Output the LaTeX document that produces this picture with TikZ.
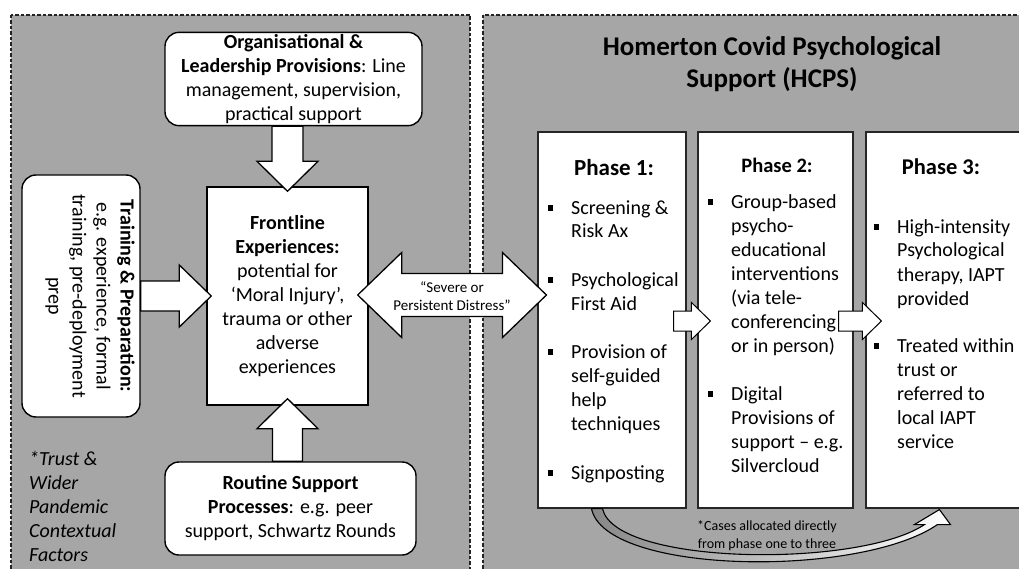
\documentclass[tikz,border=0pt]{standalone}
\usepackage{fontspec}
\setmainfont{Carlito}
\usetikzlibrary{calc}
\definecolor{panelgray}{RGB}{166,166,166}
\definecolor{bandgray}{RGB}{135,135,135}
\definecolor{dashc}{RGB}{35,35,35}
\newcommand{\fsz}[2]{\fontsize{#1}{#2}\selectfont}
\newcommand{\blockarr}[5]{%
  \path ($(#2)!#5!(#1)$) coordinate (bhd);
  \draw[blockarrow] ($(#1)!#3!90:(#2)$) -- ($(bhd)!#3!90:(#2)$) -- ($(bhd)!#4!90:(#2)$) -- (#2)
     -- ($(bhd)!#4!-90:(#2)$) -- ($(bhd)!#3!-90:(#2)$) -- ($(#1)!#3!-90:(#2)$) -- cycle;}
\newcommand{\dblarr}[5]{%
  \path ($(#1)!#5!(#2)$) coordinate (dha) ($(#2)!#5!(#1)$) coordinate (dhb);
  \draw[blockarrow] (#1) -- ($(dha)!#4!90:(#2)$) -- ($(dha)!#3!90:(#2)$) -- ($(dhb)!#3!-90:(#1)$)
     -- ($(dhb)!#4!-90:(#1)$) -- (#2) -- ($(dhb)!#4!90:(#1)$) -- ($(dhb)!#3!90:(#1)$)
     -- ($(dha)!#3!-90:(#2)$) -- ($(dha)!#4!-90:(#2)$) -- cycle;}
\newcommand{\bitem}[4]{%
  \node[bulletsq] (#1b) at (#2-20.5,#3) {};
  \node[itemtext] (#1) at (#2,#3-11) {\strut #4};}
\begin{document}
\begin{tikzpicture}[x=1pt,y=-1pt,
  panel/.style={draw=dashc,fill=panelgray,line width=1.4pt,dash pattern=on 3.5pt off 2pt},
  rbox/.style={draw=black,fill=white,line width=1.4pt,rounded corners=14pt,inner sep=2pt,align=center,font=\fsz{20}{24}},
  sbox/.style={draw=black,fill=white,line width=1.4pt,inner sep=2pt,align=center,font=\fsz{20}{24}},
  phasebox/.style={draw=black!85,fill=white,line width=1.1pt,minimum width=148pt,minimum height=376pt,inner sep=0pt},
  blockarrow/.style={draw=black,fill=white,line width=1.3pt,line join=miter},
  smallarrow/.style={draw=black,fill=white,line width=1pt,line join=miter},
  bulletsq/.style={fill=black,inner sep=0pt,minimum size=5.5pt,rectangle},
  itemtext/.style={anchor=north west,inner sep=0pt,align=left,font=\fsz{20}{24}},
  ptitle/.style={inner sep=0pt,font=\bfseries}]
\useasboundingbox (0,0) rectangle (1019,569);
\clip (0,0) rectangle (1019,569);
\fill[white] (0,0) rectangle (1019,569);
% panels
\draw[panel] (11,15) rectangle (470,580);
\draw[panel] (483,15) rectangle (1040,580);
% left side boxes
\node[rbox,minimum width=257pt,minimum height=92pt] (org) at (293.5,79)
  {\textbf{Organisational \&}\\\textbf{Leadership Provisions}: Line\\management, supervision,\\practical support};
\node[sbox,minimum width=161pt,minimum height=218pt] (front) at (287.5,296)
  {\textbf{Frontline}\\\textbf{Experiences:}\\potential for\\‘Moral Injury’,\\trauma or other\\adverse\\experiences};
\node[rbox,minimum width=251pt,minimum height=93pt] (routine) at (290.5,508.5)
  {\textbf{Routine Support}\\\textbf{Processes}: e.g. peer\\support, Schwartz Rounds};
\node[rbox,minimum width=118pt,minimum height=242pt] (train) at (81,296) {};
\node[rotate=-90,inner sep=0pt,align=center,font=\fsz{20}{24}] (traintext) at (90,296)
  {\textbf{Training \& Preparation:}\\e.g. experience, formal\\training, pre-deployment\\prep};
\node[anchor=west,inner sep=0pt,align=left,font=\fsz{20}{24}\itshape] (trust) at (29,506.5)
  {*Trust \&\\Wider\\Pandemic\\Contextual\\Factors};
% right side
\node[inner sep=0pt,align=center,font=\fsz{27}{32}\bfseries] (title) at (772,64)
  {Homerton Covid Psychological\\Support (HCPS)};
\node[phasebox] (p1) at (612,320) {};
\node[phasebox,minimum width=155pt] (p2) at (775.5,320) {};
\node[phasebox,minimum width=164pt] (p3) at (948,320) {};
\node[ptitle,font=\fsz{23}{26}\bfseries] (t1) at (614,168) {Phase 1:};
\node[ptitle,font=\fsz{20.5}{24}\bfseries] (t2) at (777,165) {Phase 2:};
\node[ptitle,font=\fsz{22.5}{26}\bfseries] (t3) at (941,167) {Phase 3:};
\bitem{p1a}{571}{208}{Screening \&\\Risk Ax}
\bitem{p1b}{571}{280}{Psychological\\First Aid}
\bitem{p1c}{571}{352}{Provision of\\self-guided\\help\\techniques}
\bitem{p1d}{571}{473}{Signposting}
\bitem{p2a}{731}{202}{Group-based\\psycho-\\educational\\interventions\\(via tele-\\conferencing\\or in person)}
\bitem{p2b}{731}{394}{Digital\\Provisions of\\support – e.g.\\Silvercloud}
\bitem{p3a}{897}{227}{High-intensity\\Psychological\\therapy, IAPT\\provided}
\bitem{p3b}{897}{346}{Treated within\\trust or\\referred to\\local IAPT\\service}
% block arrows
\coordinate (a1s) at (front.north |- org.south);
\coordinate (a1e) at ($(front.north)+(0,5)$);
\blockarr{a1s}{a1e}{15.5pt}{30.5pt}{30pt}
\coordinate (a2s) at (front.south |- routine.north);
\coordinate (a2e) at ($(front.south)+(0,-7)$);
\blockarr{a2s}{a2e}{15pt}{30.5pt}{30pt}
\coordinate (a3s) at (train.east |- front.west);
\coordinate (a3e) at ($(front.west)+(5,0)$);
\blockarr{a3s}{a3e}{15pt}{31pt}{32pt}
\coordinate (d1) at ($(front.east)+(-11,-1)$);
\coordinate (d2b) at (p1.west |- front.east);
\coordinate (d2) at ($(d2b)+(9,-1)$);
\dblarr{d1}{d2}{21.5pt}{42.5pt}{44pt}
\node[inner sep=0pt,align=center,font=\fsz{15}{18}] (distress) at (452,296)
  {“Severe or\\Persistent Distress”};
\coordinate (e1) at ($(p1.east)+(-13,1)$);
\coordinate (e2) at ($(p2.west)+(13,1)$);
\begin{scope}[blockarrow/.style={smallarrow}]
\blockarr{e1}{e2}{10pt}{18.5pt}{19pt}
\coordinate (f1) at ($(p2.east)+(-15,1)$);
\coordinate (f2) at ($(p3.west)+(16,1)$);
\blockarr{f1}{f2}{10pt}{18.5pt}{19pt}
\end{scope}
% curved arrow phase 1 -> phase 3
\coordinate (cs) at ($(p1.south west)+(54,0)$);
\coordinate (ci) at ($(p1.south west)+(65,0)$);
\coordinate (ct) at ($(p3.south west)+(74,1)$);
\shade[left color=bandgray,right color=white,draw=black,line width=1.1pt,line join=miter]
  (cs) .. controls (605,575) and (860,578) .. ($(ct)+(-2,15)$)
  -- ($(ct)+(11,15)$) -- (ct) -- ($(ct)+(-25,15)$) -- ($(ct)+(-15,15)$)
  .. controls (860,568) and (615,566) .. (ci) -- cycle;
\node[inner sep=0pt,align=center,font=\fsz{14}{18}] (cases) at (767,536)
  {*Cases allocated directly\\from phase one to three};
\end{tikzpicture}
\end{document}
